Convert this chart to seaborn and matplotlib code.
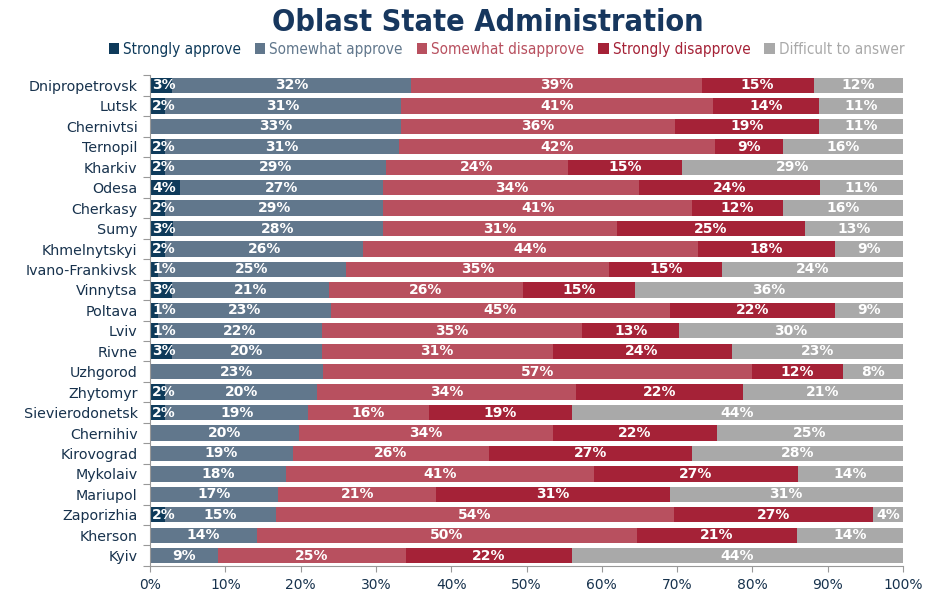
import matplotlib
matplotlib.use("Agg")
import matplotlib.pyplot as plt
from matplotlib.patches import Patch
from matplotlib.ticker import FixedLocator
import numpy as np
import seaborn as sns

regions = ["Dnipropetrovsk", "Lutsk", "Chernivtsi", "Ternopil", "Kharkiv", "Odesa",
           "Cherkasy", "Sumy", "Khmelnytskyi", "Ivano-Frankivsk", "Vinnytsa", "Poltava",
           "Lviv", "Rivne", "Uzhgorod", "Zhytomyr", "Sievierodonetsk", "Chernihiv",
           "Kirovograd", "Mykolaiv", "Mariupol", "Zaporizhia", "Kherson", "Kyiv"]

strongly_approve = [3, 2, 0, 2, 2, 4, 2, 3, 2, 1, 3, 1, 1, 3, 0, 2, 2, 0, 0, 0, 0, 2, 0, 0]
somewhat_approve = [32, 31, 33, 31, 29, 27, 29, 28, 26, 25, 21, 23, 22, 20, 23, 20, 19, 20, 19, 18, 17, 15, 14, 9]
somewhat_disapprove = [39, 41, 36, 42, 24, 34, 41, 31, 44, 35, 26, 45, 35, 31, 57, 34, 16, 34, 26, 41, 21, 54, 50, 25]
strongly_disapprove = [15, 14, 19, 9, 15, 24, 12, 25, 18, 15, 15, 22, 13, 24, 12, 22, 19, 22, 27, 27, 31, 27, 21, 22]
difficult = [12, 11, 11, 16, 29, 11, 16, 13, 9, 24, 36, 9, 30, 23, 8, 21, 44, 25, 28, 14, 31, 4, 14, 44]

series_names = ["Strongly approve", "Somewhat approve", "Somewhat disapprove",
                "Strongly disapprove", "Difficult to answer"]
series = [strongly_approve, somewhat_approve, somewhat_disapprove, strongly_disapprove, difficult]
colors = ["#0e3a5a", "#61778c", "#b8505f", "#a52237", "#a9a9a9"]
navy = "#17324d"

sns.set_theme(style="white")
plt.rcParams["font.family"] = ["DejaVu Sans"]

fig = plt.figure(figsize=(9.5, 6.02), dpi=100)
ax = fig.add_axes([0.158, 0.060, 0.7925, 0.815])

vals = np.array(series, dtype=float)
# rounded labels don't always add to 100, the bars in the chart always do
shares = vals / vals.sum(axis=0) * 100
cums = np.cumsum(shares, axis=0)

# stack by overlaying cumulative totals, widest first
for i in reversed(range(len(series))):
    sns.barplot(x=cums[i], y=regions, color=colors[i], saturation=1,
                width=0.75, errorbar=None, orient="h", linewidth=0, ax=ax)

for i in range(len(series)):
    for j, v in enumerate(series[i]):
        if v <= 0:
            continue
        left = cums[i][j] - shares[i][j]
        if i == 0:
            ax.text(left + 0.25, j, f"{v}%", ha="left", va="center",
                    color="white", fontsize=10, fontweight="bold")
        else:
            ax.text(left + shares[i][j] / 2, j, f"{v}%", ha="center", va="center",
                    color="white", fontsize=10, fontweight="bold")

ax.set_xlim(0, 100)
ax.set_ylim(len(regions) - 0.5, -0.5)
ax.set_xticks(np.arange(0, 101, 10))
ax.set_xticklabels([f"{t}%" for t in range(0, 101, 10)])
ax.set_xlabel("")
ax.set_ylabel("")
ax.yaxis.set_minor_locator(FixedLocator(np.arange(-0.5, len(regions), 1)))
ax.tick_params(axis="y", which="major", length=0, pad=9, labelsize=10.3, labelcolor=navy)
ax.tick_params(axis="y", which="minor", length=5, width=0.8, color="#999999", left=True)
ax.tick_params(axis="x", which="major", length=4, width=0.8, color="#999999",
               bottom=True, pad=5, labelsize=10, labelcolor=navy)

for s in ["top", "right"]:
    ax.spines[s].set_visible(False)
for s in ["left", "bottom"]:
    ax.spines[s].set_color("#999999")
    ax.spines[s].set_linewidth(0.8)

fig.text(0.514, 0.963, "Oblast State Administration", ha="center", va="center",
         fontsize=22, fontweight="bold", fontstretch="condensed", color="#17375e")

handles = [Patch(facecolor=c, edgecolor="none") for c in colors]
leg = fig.legend(handles, series_names, loc="center", bbox_to_anchor=(0.533, 0.918),
                 ncol=5, frameon=False, handlelength=0.7, handleheight=0.7,
                 handletextpad=0.25, columnspacing=0.9,
                 prop={"size": 11, "stretch": "condensed"})
for t, c in zip(leg.get_texts(), colors):
    t.set_color(c)

fig.savefig("out.png", dpi=100)
